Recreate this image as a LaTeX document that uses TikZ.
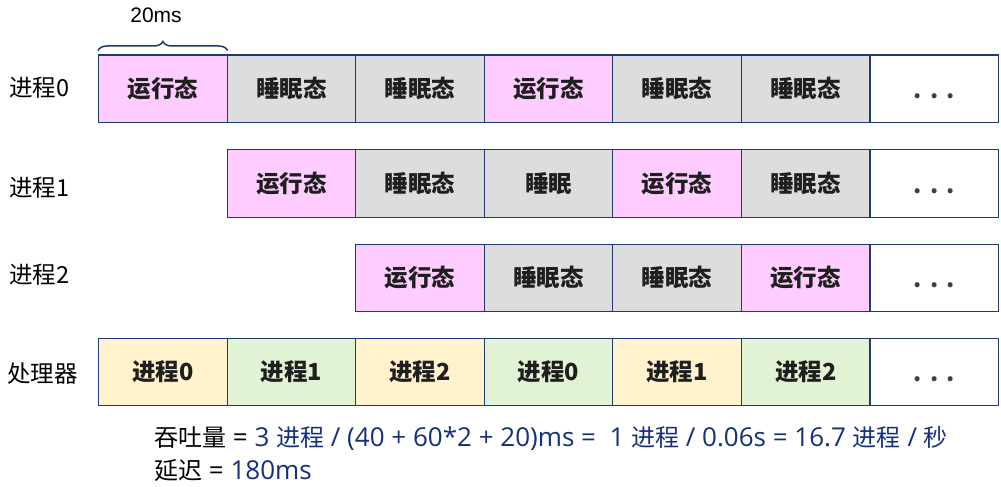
\documentclass[tikz,border=0pt]{standalone}
\usepackage{fontspec}
\setmainfont{Noto Sans CJK SC}
\newfontfamily\arialf{Liberation Sans}
\newfontfamily\latf{Open Sans}
\usetikzlibrary{decorations.pathreplacing}
\definecolor{navy}{HTML}{1F3A70}
\definecolor{pinkc}{HTML}{FFCCFF}
\definecolor{grayc}{HTML}{DDDDDD}
\definecolor{yelc}{HTML}{FFF2CC}
\definecolor{grnc}{HTML}{E2F2D4}
\definecolor{bluet}{HTML}{14307A}
\tikzset{
  cellbox/.style={draw=navy, line width=1.1pt, minimum width=128.57pt, minimum height=67.5pt,
    inner sep=0pt, anchor=north west, text=black!88,
    font=\bfseries\fontsize{23.5}{23.5}\selectfont},
  rowlabel/.style={anchor=west, inner sep=0pt, font=\fontsize{23.5}{23.5}\selectfont},
  formula/.style={anchor=west, inner sep=0pt, font=\fontsize{24}{24}\selectfont},
}
\newcommand{\cellat}[5]{\node[cellbox, fill=#4] (#1) at ({98+#2*128.57}, #3) {#5};}
\newcommand{\dotsx}{\raisebox{-10pt}[0pt][0pt]{\textcolor{black!75}{.\hspace{8pt}.\hspace{8pt}.}}}
\newcommand{\lt}[1]{{\latf\fontsize{26}{26}\selectfont #1}}
\begin{document}
\begin{tikzpicture}[x=1pt,y=-1pt]
\useasboundingbox (0,0) rectangle (1001,487);
% row 0
\cellat{a0}{0}{54.5}{pinkc}{运行态}
\cellat{a1}{1}{54.5}{grayc}{睡眠态}
\cellat{a2}{2}{54.5}{grayc}{睡眠态}
\cellat{a3}{3}{54.5}{pinkc}{运行态}
\cellat{a4}{4}{54.5}{grayc}{睡眠态}
\cellat{a5}{5}{54.5}{grayc}{睡眠态}
\cellat{a6}{6}{54.5}{white}{\dotsx}
% row 1
\cellat{b1}{1}{149}{pinkc}{运行态}
\cellat{b2}{2}{149}{grayc}{睡眠态}
\cellat{b3}{3}{149}{grayc}{睡眠}
\cellat{b4}{4}{149}{pinkc}{运行态}
\cellat{b5}{5}{149}{grayc}{睡眠态}
\cellat{b6}{6}{149}{white}{\dotsx}
% row 2
\cellat{c2}{2}{243.5}{pinkc}{运行态}
\cellat{c3}{3}{243.5}{grayc}{睡眠态}
\cellat{c4}{4}{243.5}{grayc}{睡眠态}
\cellat{c5}{5}{243.5}{pinkc}{运行态}
\cellat{c6}{6}{243.5}{white}{\dotsx}
% processor row
\cellat{d0}{0}{337.5}{yelc}{进程0}
\cellat{d1}{1}{337.5}{grnc}{进程1}
\cellat{d2}{2}{337.5}{yelc}{进程2}
\cellat{d3}{3}{337.5}{grnc}{进程0}
\cellat{d4}{4}{337.5}{yelc}{进程1}
\cellat{d5}{5}{337.5}{grnc}{进程2}
\cellat{d6}{6}{337.5}{white}{\dotsx}
% row labels
\node[rowlabel] (l0) at (9,88) {进程0};
\node[rowlabel] (l1) at (9,188) {进程1};
\node[rowlabel] (l2) at (9,275) {进程2};
\node[rowlabel] (l3) at (7,374) {处理器};
% brace
\draw[navy, line width=1.5pt, decorate, decoration={brace, amplitude=9pt}]
  ([yshift=4pt]a0.north west) -- ([yshift=4pt]a0.north east);
\node[inner sep=0pt, font=\arialf\fontsize{21}{21}\selectfont] (t20) at (156,15) {20ms};
% formulas
\node[formula] (f1) at (154,438) {吞吐量\lt{ = }\textcolor{bluet}{\lt{3 }进程\lt{ / (40 + 60*2 + 20)ms =\ \ 1 }进程\lt{ / 0.06s = 16.7 }进程\lt{ / }秒}};
\node[formula] (f2) at (154,471) {延迟\lt{ = }\textcolor{bluet}{\lt{180ms}}};
\end{tikzpicture}
\end{document}
